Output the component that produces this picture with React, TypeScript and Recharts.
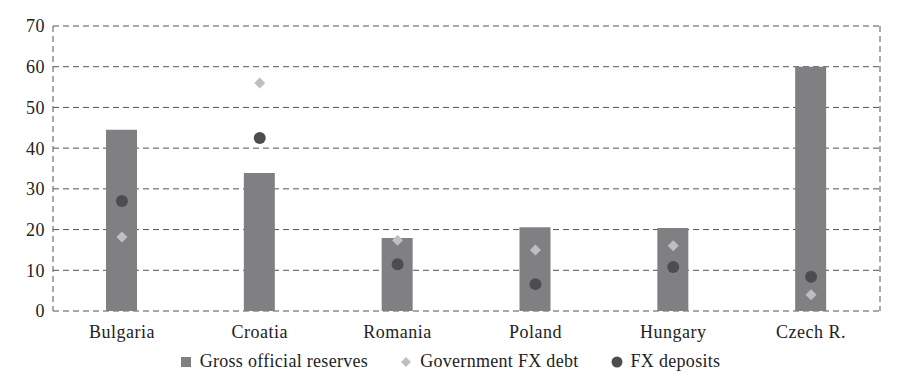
import { ComposedChart, Bar, Scatter, XAxis, YAxis, CartesianGrid, Legend } from 'recharts'

const countries = ['Bulgaria', 'Croatia', 'Romania', 'Poland', 'Hungary', 'Czech R.']
const reserves = [44.5, 33.9, 17.9, 20.6, 20.4, 60]
const fxDebt = [18.2, 56, 17.4, 15, 16, 4]
const fxDeposits = [27, 42.5, 11.5, 6.6, 10.8, 8.4]
const yTicks = [0, 10, 20, 30, 40, 50, 60, 70]

const BAR = '#808083'
const DIAMOND = '#bfbfbf'
const DOT = '#4d4d4f'
const FONT = 'Liberation Serif, Times New Roman, DejaVu Serif, serif'

const data = countries.map((c, i) => ({
  name: c,
  reserves: reserves[i],
  debt: fxDebt[i],
  deposits: fxDeposits[i],
}))

const Diamond = (p: any) => {
  const { cx, cy } = p
  if (cx == null || cy == null) return null
  const r = 5.5
  return <path d={`M${cx},${cy - r}L${cx + r},${cy}L${cx},${cy + r}L${cx - r},${cy}Z`} fill={DIAMOND} />
}

const Dot = (p: any) => {
  const { cx, cy } = p
  if (cx == null || cy == null) return null
  return <circle cx={cx} cy={cy} r={6} fill={DOT} />
}

const legendItems = [
  { label: 'Gross official reserves', kind: 'square' },
  { label: 'Government FX debt', kind: 'diamond' },
  { label: 'FX deposits', kind: 'circle' },
]

const LegendContent = () => (
  <div
    style={{
      display: 'flex',
      justifyContent: 'center',
      gap: 32,
      paddingTop: 10,
      paddingLeft: 20,
      fontFamily: FONT,
      fontSize: 18,
      letterSpacing: 0.3,
      color: '#222',
    }}
  >
    {legendItems.map(it => (
      <div key={it.label} style={{ display: 'flex', alignItems: 'center', gap: 8 }}>
        <svg width={12} height={12}>
          {it.kind === 'square' && <rect x={1} y={1} width={10} height={10} fill={BAR} />}
          {it.kind === 'diamond' && <path d="M6,1L11,6L6,11L1,6Z" fill={DIAMOND} />}
          {it.kind === 'circle' && <circle cx={6} cy={6} r={5.5} fill={DOT} />}
        </svg>
        <span>{it.label}</span>
      </div>
    ))}
  </div>
)

const tickStyle = { fill: '#222', fontSize: 18, fontFamily: FONT, letterSpacing: 0.5 }

export default function App() {
  return (
    <div style={{ position: 'absolute', left: 0, top: 0, background: '#fff' }}>
      <ComposedChart width={900} height={389} data={data} margin={{ top: 26, right: 20, left: 0, bottom: 4 }}>
        <CartesianGrid stroke="#555" strokeDasharray="6 4" verticalPoints={[53, 880]} />
        <XAxis dataKey="name" axisLine={false} tickLine={false} tick={tickStyle} tickMargin={8} />
        <YAxis
          domain={[0, 70]}
          ticks={yTicks}
          width={53}
          axisLine={false}
          tickLine={false}
          tick={tickStyle}
          tickMargin={2}
        />
        <Legend content={<LegendContent />} verticalAlign="bottom" height={44} />
        <Bar dataKey="reserves" fill={BAR} barSize={31} isAnimationActive={false} />
        <Scatter dataKey="debt" shape={<Diamond />} isAnimationActive={false} />
        <Scatter dataKey="deposits" shape={<Dot />} isAnimationActive={false} />
      </ComposedChart>
    </div>
  )
}
